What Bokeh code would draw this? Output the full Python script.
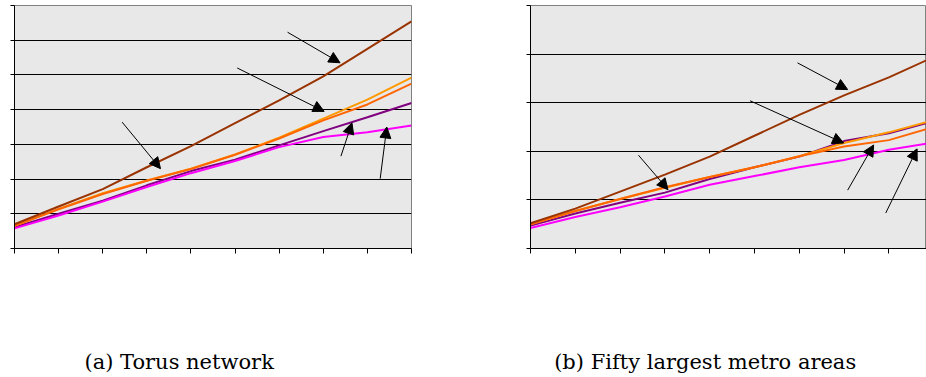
from bokeh.plotting import figure
from bokeh.layouts import row, column
from bokeh.models import (Range1d, FixedTicker, Arrow, NormalHead, ColumnDataSource,
                          CustomJSTickFormatter)
from bokeh.core.properties import value
from bokeh.embed import file_html
from bokeh.resources import INLINE

# ---- data ----
cats = list(range(10))

a_brown = [0.70, 1.21, 1.71, 2.34, 2.95, 3.61, 4.27, 4.96, 5.75, 6.54]
a_orange = [0.65, 1.14, 1.59, 1.96, 2.30, 2.71, 3.19, 3.74, 4.29, 4.92]
a_darkorange = [0.65, 1.13, 1.57, 1.95, 2.29, 2.70, 3.17, 3.69, 4.15, 4.75]
a_purple = [0.61, 1.00, 1.38, 1.82, 2.23, 2.56, 2.97, 3.38, 3.78, 4.19]
a_pink = [0.58, 0.95, 1.35, 1.77, 2.17, 2.52, 2.92, 3.21, 3.35, 3.54]

b_brown = [0.52, 0.82, 1.17, 1.52, 1.89, 2.32, 2.75, 3.15, 3.52, 3.94]
b_orange = [0.50, 0.77, 1.02, 1.25, 1.47, 1.67, 1.90, 2.17, 2.39, 2.64]
b_darkorange = [0.50, 0.77, 1.02, 1.26, 1.47, 1.67, 1.90, 2.10, 2.23, 2.50]
b_purple = [0.47, 0.72, 0.94, 1.15, 1.43, 1.67, 1.89, 2.21, 2.37, 2.62]
b_pink = [0.42, 0.65, 0.85, 1.07, 1.31, 1.49, 1.67, 1.82, 2.03, 2.18]

a_arrow_x0 = [6.19, 5.05, 2.44, 7.40, 8.29]
a_arrow_y0 = [6.23, 5.20, 3.64, 2.66, 2.01]
a_arrow_x1 = [7.38, 7.02, 3.31, 7.65, 8.44]
a_arrow_y1 = [5.35, 3.95, 2.30, 3.62, 3.50]

b_arrow_x0 = [5.96, 4.90, 2.41, 7.08, 7.93]
b_arrow_y0 = [3.82, 3.04, 1.92, 1.20, 0.73]
b_arrow_x1 = [7.08, 6.99, 3.07, 7.66, 8.63]
b_arrow_y1 = [3.27, 2.17, 1.21, 2.13, 2.05]

captions = ["(a)  Torus network", "(b)  Fifty largest metro areas"]

COLORS = {"brown": "#993300", "orange": "#FF9900", "darkorange": "#FF6600",
          "purple": "#800080", "pink": "#FF00FF"}

EMPTY = CustomJSTickFormatter(code="return '';")


def panel(width, height, xend, ymax, mb_left, mb_right, mb_top, mb_bottom, series, arrows):
    p = figure(width=width, height=height, output_backend="svg", toolbar_location=None,
               x_range=Range1d(0, xend), y_range=Range1d(0, ymax),
               min_border_left=mb_left, min_border_right=mb_right,
               min_border_top=mb_top, min_border_bottom=mb_bottom,
               background_fill_color="#e8e8e8", border_fill_color="white",
               outline_line_color="#808080", outline_line_width=1)
    p.xgrid.visible = False
    p.ygrid.ticker = FixedTicker(ticks=list(range(ymax + 1)))
    p.ygrid.grid_line_color = "black"
    p.ygrid.grid_line_width = 1
    for ax, ticks in ((p.xaxis, list(range(10))), (p.yaxis, list(range(ymax + 1)))):
        ax.ticker = FixedTicker(ticks=ticks)
        ax.formatter = EMPTY
        ax.major_label_standoff = 0
        ax.minor_tick_line_color = None
        ax.axis_line_color = "black"
        ax.major_tick_line_color = "black"
        ax.major_tick_in = 0
    p.xaxis.major_tick_out = 5
    p.yaxis.major_tick_out = 4

    for key, vals in series:
        p.line(cats, vals, line_color=COLORS[key], line_width=2)

    x0, y0, x1, y1 = arrows
    src = ColumnDataSource(dict(x0=x0, y0=y0, x1=x1, y1=y1))
    p.add_layout(Arrow(x_start="x0", y_start="y0", x_end="x1", y_end="y1", source=src,
                       line_color="black", line_width=1,
                       end=NormalHead(size=11, fill_color="black", line_color="black")))
    return p


pa = panel(524, 270, 9, 7, 14, 113, 5, 22,
           [("purple", a_purple), ("pink", a_pink), ("orange", a_orange),
            ("darkorange", a_darkorange), ("brown", a_brown)],
           (a_arrow_x0, a_arrow_y0, a_arrow_x1, a_arrow_y1))
pb = panel(402, 270, 8.84, 5, 6, 0, 4, 16,
           [("purple", b_purple), ("pink", b_pink), ("orange", b_orange),
            ("darkorange", b_darkorange), ("brown", b_brown)],
           (b_arrow_x0, b_arrow_y0, b_arrow_x1, b_arrow_y1))

# caption strip (pixel-like coordinates, y downward)
pc = figure(width=926, height=107, output_backend="svg", toolbar_location=None,
            x_range=Range1d(0, 926), y_range=Range1d(107, 0),
            min_border=0, outline_line_color=None)
pc.axis.visible = False
pc.grid.visible = False
pc.text(x=[182, 708], y=[91, 91], text=captions, text_align="center",
        text_baseline="middle", text_font=value("DejaVu Serif"),
        text_font_size="21px", text_color="black")

layout = column(row(pa, pb), pc)
open("out.html", "w").write(file_html(layout, INLINE))
